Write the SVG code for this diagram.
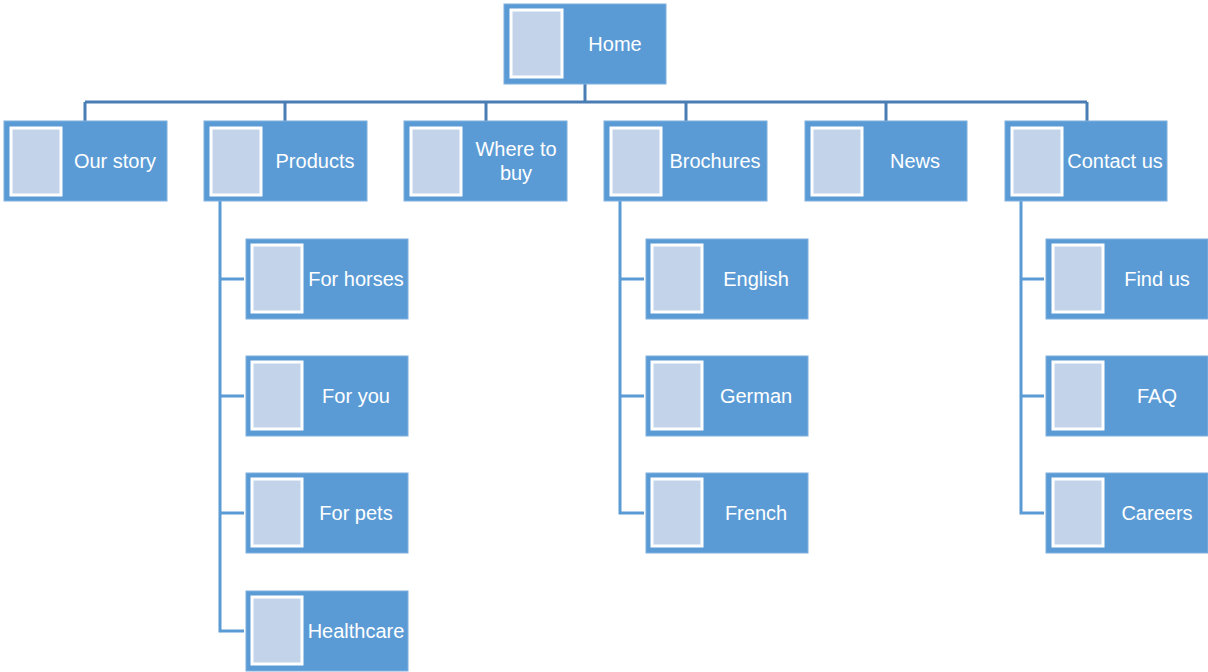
<svg xmlns="http://www.w3.org/2000/svg" width="1208" height="672" viewBox="0 0 1208 672">
<style>
.box{fill:#5b9bd5;stroke:#7fb0de;stroke-width:1}
.img{fill:#c3d4ea;stroke:#ffffff;stroke-width:3}
.t{fill:#ffffff;font-family:"Liberation Sans",Arial,sans-serif;font-size:20px;text-anchor:middle}
.top{fill:none;stroke:#4a7db3;stroke-width:3}
.sub{fill:none;stroke:#5b9bd5;stroke-width:3}
</style>
<rect width="1208" height="672" fill="#ffffff"/>
<g id="connectors">
<path class="top" d="M585 84V102M85 102H1087M85 102V121M285 102V121M486 102V121M686 102V121M886 102V121M1087 102V121"/>
<path class="sub" d="M220 201V631H244M220 279H244M220 396H244M220 513H244"/>
<path class="sub" d="M620 201V513H644M620 279H644M620 396H644"/>
<path class="sub" d="M1021 201V513H1044M1021 279H1044M1021 396H1044"/>
</g>
<g id="home"><rect class="box" x="504" y="4" width="162" height="80"/><rect class="img" x="511" y="10" width="51" height="67"/><text class="t" x="615" y="51">Home</text></g>
<g id="our-story"><rect class="box" x="4" y="121" width="163" height="80"/><rect class="img" x="11" y="128" width="50" height="67"/><text class="t" x="115" y="168">Our story</text></g>
<g id="products"><rect class="box" x="204" y="121" width="163" height="80"/><rect class="img" x="211" y="128" width="50" height="67"/><text class="t" x="315" y="168">Products</text></g>
<g id="where-to-buy"><rect class="box" x="404" y="121" width="163" height="80"/><rect class="img" x="411" y="128" width="50" height="67"/><text class="t" x="516" y="156">Where to</text><text class="t" x="516" y="180">buy</text></g>
<g id="brochures"><rect class="box" x="604" y="121" width="163" height="80"/><rect class="img" x="611" y="128" width="50" height="67"/><text class="t" x="715" y="168">Brochures</text></g>
<g id="news"><rect class="box" x="805" y="121" width="162" height="80"/><rect class="img" x="812" y="128" width="50" height="67"/><text class="t" x="915" y="168">News</text></g>
<g id="contact-us"><rect class="box" x="1005" y="121" width="162" height="80"/><rect class="img" x="1012" y="128" width="50" height="67"/><text class="t" x="1115" y="168">Contact us</text></g>
<g id="for-horses"><rect class="box" x="246" y="239" width="162" height="80"/><rect class="img" x="252" y="245" width="50" height="67"/><text class="t" x="356" y="286">For horses</text></g>
<g id="for-you"><rect class="box" x="246" y="356" width="162" height="80"/><rect class="img" x="252" y="362" width="50" height="67"/><text class="t" x="356" y="403">For you</text></g>
<g id="for-pets"><rect class="box" x="246" y="473" width="162" height="80"/><rect class="img" x="252" y="479" width="50" height="67"/><text class="t" x="356" y="520">For pets</text></g>
<g id="healthcare"><rect class="box" x="246" y="591" width="162" height="80"/><rect class="img" x="252" y="597" width="50" height="67"/><text class="t" x="356" y="638">Healthcare</text></g>
<g id="english"><rect class="box" x="646" y="239" width="162" height="80"/><rect class="img" x="652" y="245" width="50" height="67"/><text class="t" x="756" y="286">English</text></g>
<g id="german"><rect class="box" x="646" y="356" width="162" height="80"/><rect class="img" x="652" y="362" width="50" height="67"/><text class="t" x="756" y="403">German</text></g>
<g id="french"><rect class="box" x="646" y="473" width="162" height="80"/><rect class="img" x="652" y="479" width="50" height="67"/><text class="t" x="756" y="520">French</text></g>
<g id="find-us"><rect class="box" x="1046" y="239" width="162" height="80"/><rect class="img" x="1053" y="245" width="50" height="67"/><text class="t" x="1157" y="286">Find us</text></g>
<g id="faq"><rect class="box" x="1046" y="356" width="162" height="80"/><rect class="img" x="1053" y="362" width="50" height="67"/><text class="t" x="1157" y="403">FAQ</text></g>
<g id="careers"><rect class="box" x="1046" y="473" width="162" height="80"/><rect class="img" x="1053" y="479" width="50" height="67"/><text class="t" x="1157" y="520">Careers</text></g>
</svg>
